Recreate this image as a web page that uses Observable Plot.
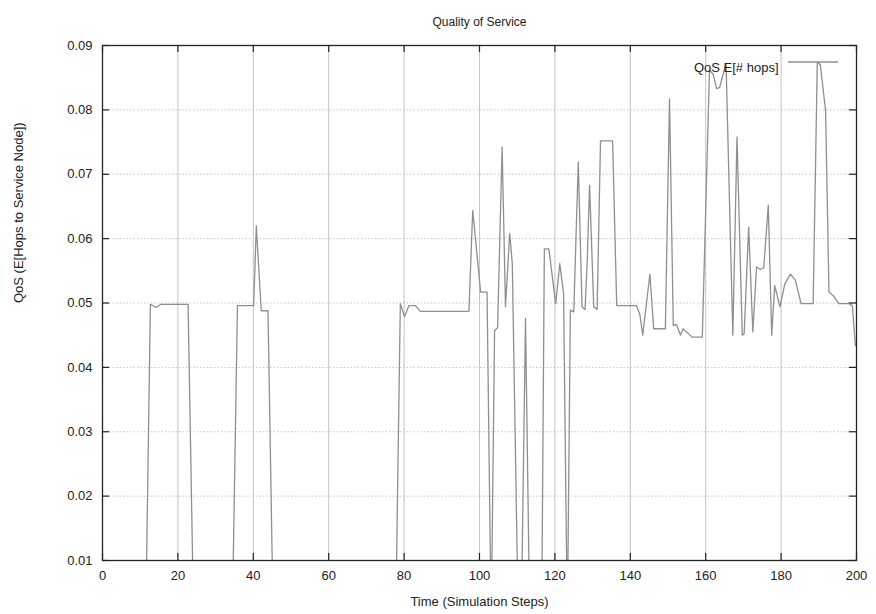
<!DOCTYPE html>
<html>
<head>
<meta charset="utf-8">
<script src="https://cdn.jsdelivr.net/npm/d3@7"></script>
<script src="https://cdn.jsdelivr.net/npm/@observablehq/plot@0.6"></script>
<style>
  html, body { margin: 0; padding: 0; background: #fff; }
</style>
</head>
<body>
<div id="chart"></div>
<script>
// Simulation step (x) and QoS value (y); 0 marks values below the plotted range
const steps = [
  0, 11.45, 12.7, 14.2, 15.5, 22.7, 24.2,
  34.4, 35.8, 40.1, 40.8, 42.1, 43.9, 45.3,
  77.75, 79.0, 80.1, 81.3, 83.0, 84.3, 97.2, 98.2, 100.3, 102.0, 103.1,
  104.0, 104.8, 106.0, 106.9, 108.0, 108.7, 110.3,
  111.06, 112.2, 113.34,
  116.48, 117.2, 118.4, 120.2, 121.3, 122.3, 123.3,
  124.1, 125.0, 126.2, 127.2, 128.0, 128.6, 129.2, 130.3, 131.2, 132.1, 135.3, 136.4,
  141.6, 142.5, 143.3, 145.2, 146.2, 149.3, 150.4, 151.4, 152.2, 153.3, 154.0, 156.4, 159.1,
  161.0, 162.0, 162.9, 163.7, 164.6, 165.4, 167.2, 168.3, 169.7, 170.2, 171.4, 172.5,
  173.5, 174.5, 175.4, 176.6, 177.5, 178.3, 179.7, 181.0, 182.5, 183.8, 185.3, 188.5,
  189.6, 190.4, 191.8, 192.7, 193.9, 195.3, 198.0, 198.9, 199.7
];
const qos = [
  0, 0, 0.0498, 0.0493, 0.0498, 0.0498, 0,
  0, 0.0496, 0.0496, 0.0620, 0.0488, 0.0488, 0,
  0, 0.0499, 0.0479, 0.0496, 0.0496, 0.0487, 0.0487, 0.0644, 0.0517, 0.0517, 0,
  0.0457, 0.0462, 0.0742, 0.0494, 0.0608, 0.0561, 0,
  0, 0.0476, 0,
  0, 0.0584, 0.0584, 0.0499, 0.0561, 0.0515, 0,
  0.0489, 0.0486, 0.0719, 0.0494, 0.0490, 0.0570, 0.0683, 0.0494, 0.0490, 0.0752, 0.0752, 0.0496,
  0.0496, 0.0483, 0.0450, 0.0545, 0.0460, 0.0460, 0.0817, 0.0465, 0.0467, 0.0450, 0.0460, 0.0447, 0.0447,
  0.0862, 0.0855, 0.0833, 0.0835, 0.0855, 0.0872, 0.0450, 0.0758, 0.0450, 0.0452, 0.0618, 0.0455,
  0.0556, 0.0552, 0.0555, 0.0652, 0.0450, 0.0527, 0.0494, 0.0530, 0.0545, 0.0535, 0.0499, 0.0499,
  0.0874, 0.0870, 0.0799, 0.0517, 0.0511, 0.0499, 0.0499, 0.0496, 0.0434
];
const xTicks = [0, 20, 40, 60, 80, 100, 120, 140, 160, 180, 200];
const yTicks = [0.01, 0.02, 0.03, 0.04, 0.05, 0.06, 0.07, 0.08, 0.09];

const title = "Quality of Service";
const xLabel = "Time (Simulation Steps)";
const yLabel = "QoS (E[Hops to Service Node])";
const seriesName = "QoS E[# hops]";

const data = steps.map((s, i) => ({step: s, qos: qos[i]}));

const W = 876, H = 614, mL = 102, mR = 20, mT = 45, mB = 54;
const frameW = W - mL - mR, frameH = H - mT - mB, tickLen = 7;

const chart = Plot.plot({
  width: W,
  height: H,
  marginLeft: mL,
  marginRight: mR,
  marginTop: mT,
  marginBottom: mB,
  style: {fontFamily: "'Liberation Sans', Arial, sans-serif", fontSize: "13px", color: "#222", background: "#fff"},
  x: {domain: [0, 200]},
  y: {domain: [0.01, 0.09]},
  marks: [
    Plot.gridX(xTicks, {stroke: "#c4c4c4", strokeOpacity: 1, strokeWidth: 1}),
    Plot.gridY(yTicks, {stroke: "#c4c4c4", strokeOpacity: 1, strokeWidth: 1, strokeDasharray: "1.5,2"}),
    Plot.line(data, {x: "step", y: "qos", stroke: "#8f8f8f", strokeWidth: 1.3, clip: true}),
    // labels
    Plot.axisX(xTicks, {anchor: "bottom", tickSize: 0, tickPadding: 10, label: null, fontSize: 13}),
    Plot.axisY(yTicks, {anchor: "left", tickSize: 0, tickPadding: 10, label: null, fontSize: 13, tickFormat: d3.format(".2f")}),
    // inward ticks on all four sides
    Plot.tickX(xTicks, {x: d => d, insetTop: frameH - tickLen, stroke: "#222", strokeWidth: 1.2}),
    Plot.tickX(xTicks, {x: d => d, insetBottom: frameH - tickLen, stroke: "#222", strokeWidth: 1.2}),
    Plot.tickY(yTicks, {y: d => d, insetRight: frameW - tickLen, stroke: "#222", strokeWidth: 1.2}),
    Plot.tickY(yTicks, {y: d => d, insetLeft: frameW - tickLen, stroke: "#222", strokeWidth: 1.2}),
    Plot.frame({stroke: "#222", strokeWidth: 1.3}),
    Plot.text([title], {frameAnchor: "top", dy: -28, fontSize: 12, fill: "#222"}),
    Plot.text([xLabel], {frameAnchor: "bottom", dy: 45, fontSize: 13, fill: "#222"}),
    Plot.text([yLabel], {frameAnchor: "left", dx: -84, rotate: -90, fontSize: 13, fill: "#222"}),
    Plot.text([seriesName], {frameAnchor: "top-right", dx: -78, dy: 17, textAnchor: "end", fontSize: 13, fill: "#222"})
  ]
});

// legend sample line
const svg = d3.select(chart);
svg.append("line")
  .attr("x1", W - mR - 68).attr("x2", W - mR - 18)
  .attr("y1", mT + 17).attr("y2", mT + 17)
  .attr("stroke", "#8f8f8f").attr("stroke-width", 1.3);

document.getElementById("chart").appendChild(chart);
</script>
</body>
</html>
